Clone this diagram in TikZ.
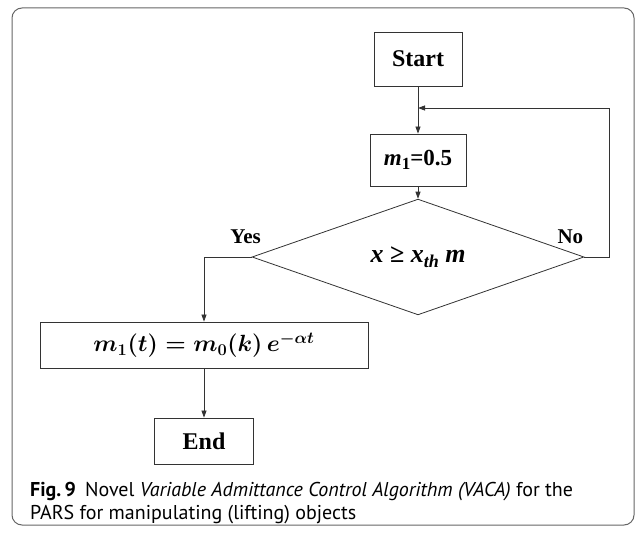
\RequirePackage{fix-cm}
\documentclass[tikz,border=0pt]{standalone}
\usepackage{amsmath}
\usepackage{graphicx}
\usepackage{fontspec}
\setmainfont{Liberation Serif}
\newfontfamily\capfont{PT Sans}
\usetikzlibrary{arrows.meta, positioning, calc, shapes.geometric}
\tikzset{
    blk/.style = {rectangle, draw=black!80, line width=0.8pt, inner sep=2pt, font=\bfseries\fontsize{24}{26}\selectfont},
    dec/.style = {diamond, draw=black!80, line width=0.8pt, inner sep=0pt, minimum width=332pt, minimum height=110pt},
    flow/.style = {-{Triangle[length=7pt, width=5pt]}, draw=black!80, line width=0.8pt},
    lbl/.style = {font=\bfseries\fontsize{21}{23}\selectfont, inner sep=1pt}
}

\begin{document}
\begin{tikzpicture}[x=1pt, y=1pt]
\useasboundingbox (0,0) rectangle (636,532);
% Frame
\draw[black!60, rounded corners=10pt, line width=1pt] (12,7) rectangle (634,524);

% Flow column
\node[blk, minimum width=88pt, minimum height=54pt] (START) at (418,473) {Start};
\node[blk, minimum width=96pt, minimum height=52pt, font=\bfseries\fontsize{23}{25}\selectfont] (M1) at (418,372) {{\itshape m}\raisebox{-0.35ex}{\fontsize{17}{17}\selectfont 1}=0.5};
\node[dec, font=\bfseries\itshape\fontsize{26}{28}\selectfont] (DEC) at (418,275) {x {\upshape ≥} x\raisebox{-0.4ex}{\fontsize{18}{18}\selectfont th} m};
\node[blk, minimum width=328pt, minimum height=46pt, font=\fontsize{21}{23}\selectfont] (EXP) at (204,187) {\resizebox{221pt}{!}{$\boldsymbol{m_1(t) = m_0(k)\, e^{-\alpha t}}$}};
\node[blk, minimum width=99pt, minimum height=46pt] (END) at (204,91) {End};
\coordinate (JOIN) at (418,424);

% Branch labels
\node[lbl, above=12pt of DEC.west, xshift=-6pt] (YES) {Yes};
\node[lbl, above=12pt of DEC.east, xshift=-14pt] (NO) {No};

% Arrows
\draw[flow] (START) -- (M1);
\draw[flow] (M1) -- (DEC);
\draw[flow] (DEC.east) -- ++(25,0) |- (JOIN);
\draw[flow] (DEC.west) -| (EXP.north);
\draw[flow] (EXP) -- (END);

% Caption
\node[anchor=west, inner sep=0pt, font=\capfont\fontsize{20}{23}\selectfont, align=left] (CAP) at (30,29)
  {{\bfseries Fig.\,9}\hspace{0.45em}Novel \textit{Variable Admittance Control Algorithm (VACA)} for the\\
   PARS for manipulating (lifting) objects};
\end{tikzpicture}
\end{document}
